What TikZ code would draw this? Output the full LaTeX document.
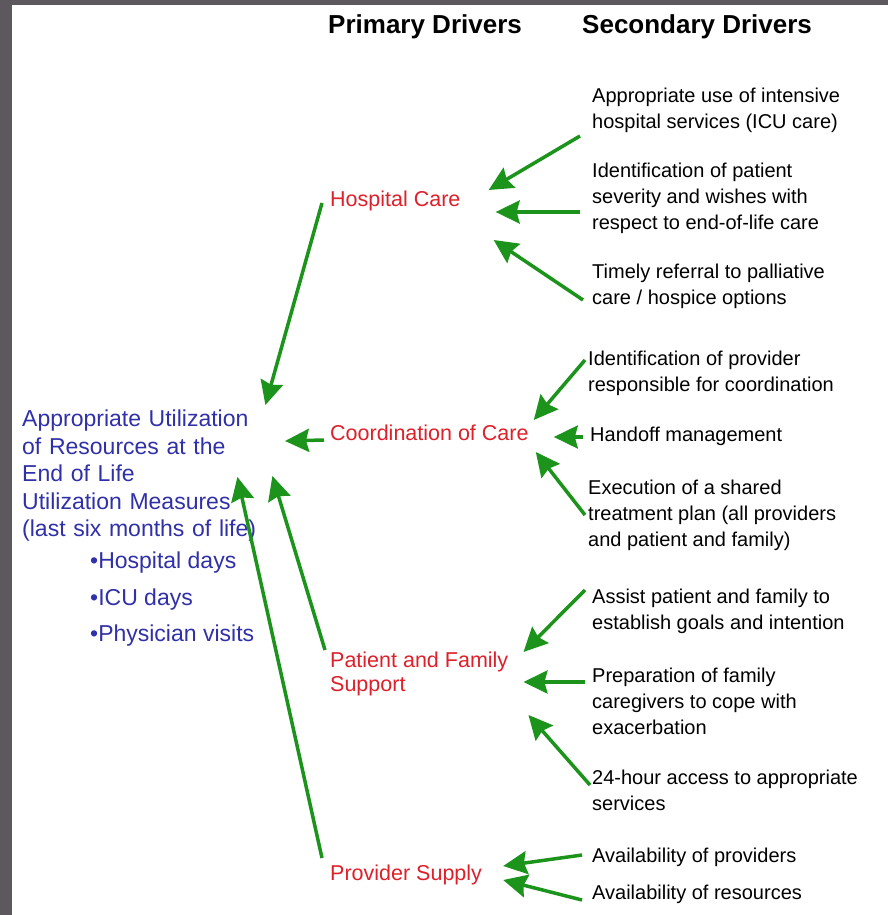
\documentclass[tikz,border=0pt]{standalone}
\usepackage{fontspec}
\setmainfont{Liberation Sans}
\usetikzlibrary{positioning, arrows.meta}
\definecolor{drvred}{RGB}{222,32,42}
\definecolor{goalblue}{RGB}{48,48,168}
\definecolor{arrgreen}{RGB}{28,148,28}
\definecolor{framegray}{RGB}{92,88,94}

\begin{document}
\begin{tikzpicture}[x=1pt,y=-1pt,>={Stealth[length=24pt,width=23pt,inset=3pt]},
  sec/.style={anchor=west,inner sep=0pt,align=left,font=\fontsize{20}{26}\selectfont},
  prim/.style={anchor=west,inner sep=0pt,align=left,text=drvred,font=\fontsize{21.5}{24}\selectfont},
  goaltext/.style={anchor=west,inner sep=0pt,align=left,text=goalblue,font=\fontsize{23}{27.5}\selectfont},
  head/.style={anchor=west,inner sep=0pt,font=\bfseries\fontsize{26}{30}\selectfont},
  drv/.style={->,arrgreen,line width=3.5pt}]
%%Background and frame
\useasboundingbox (0,0) rectangle (888,915);
\fill[framegray] (0,0) rectangle (888,915);
\fill[white] (12,5) rectangle (888,915);
%%First place the nodes
\node[head] (hprim) at (328,27) {Primary Drivers};
\node[head] (hsec) at (582,27) {Secondary Drivers};
\node[goaltext,text width=246pt] (goal) at (22,476) {Appropriate Utilization\\of Resources at the\\End of Life\\Utilization Measures\\(last six months of life)};
\node[goaltext] (m1) at (90,563) {•Hospital days};
\node[goaltext] (m2) at (90,600) {•ICU days};
\node[goaltext] (m3) at (90,636) {•Physician visits};
\node[prim] (hosp) at (330,201) {Hospital Care};
\node[prim] (coord) at (330,433) {Coordination of Care};
\node[prim] (pfs) at (330,674) {Patient and Family\\Support};
\node[prim] (prov) at (330,875) {Provider Supply};
\node[sec] (s1) at (592,110) {Appropriate use of intensive\\hospital services (ICU care)};
\node[sec] (s2) at (592,198) {Identification of patient\\severity and wishes with\\respect to end-of-life care};
\node[sec] (s3) at (592,286) {Timely referral to palliative\\care / hospice options};
\node[sec] (s4) at (588,373) {Identification of provider\\responsible for coordination};
\node[sec] (s5) at (590,436) {Handoff management};
\node[sec] (s6) at (588,515) {Execution of a shared\\treatment plan (all providers\\and patient and family)};
\node[sec] (s7) at (592,611) {Assist patient and family to\\establish goals and intention};
\node[sec] (s8) at (592,701) {Preparation of family\\caregivers to cope with\\exacerbation};
\node[sec] (s9) at (592,790) {24-hour access to appropriate\\services};
\node[sec] (s10) at (592,857) {Availability of providers};
\node[sec] (s11) at (592,894) {Availability of resources};
%%Secondary drivers to primary drivers
\path[drv]
([shift={(-12,26)}]s1.west) edge ([shift={(28,-11)}]hosp.east)
([shift={(-12,14)}]s2.west) edge ([shift={(35,11)}]hosp.east)
([shift={(-9,14)}]s3.west) edge ([shift={(33,39)}]hosp.east)
([shift={(-3,-13)}]s4.west) edge ([shift={(5,-13)}]coord.east)
([shift={(-7,1)}]s5.west) edge ([shift={(25,4)}]coord.east)
([shift={(-3,0)}]s6.west) edge ([shift={(7,19)}]coord.east)
([shift={(-7,-21)}]s7.west) edge ([shift={(15,-22)}]pfs.east)
([shift={(-7,-19)}]s8.west) edge ([shift={(15,8)}]pfs.east)
([shift={(-2,-5)}]s9.west) edge ([shift={(20,41)}]pfs.east)
([shift={(-10,-2)}]s10.west) edge ([shift={(21,-9)}]prov.east)
([shift={(-10,6)}]s11.west) edge ([shift={(21,5)}]prov.east);
%%Primary drivers to the aim
\path[drv]
([shift={(-8,2)}]hosp.west) edge ([shift={(-3,-71)}]goal.east)
([shift={(-6,7)}]coord.west) edge ([shift={(-45,8)}]coord.west)
([shift={(-5,-24)}]pfs.west) edge ([shift={(4,0)}]goal.east)
([shift={(-8,-17)}]prov.west) edge ([shift={(-31,1)}]goal.east);
\end{tikzpicture}
\end{document}
